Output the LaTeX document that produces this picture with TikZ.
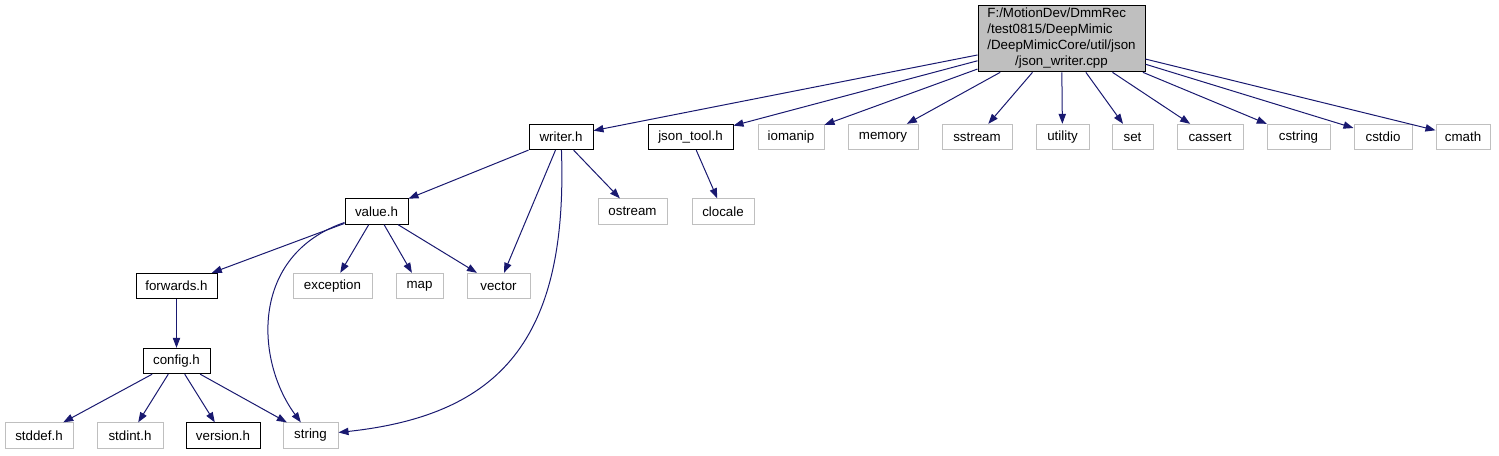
\documentclass[tikz,border=0pt]{standalone}
\usepackage{fontspec}
\setmainfont{Liberation Sans}
\usetikzlibrary{arrows.meta}
\definecolor{edgeblue}{HTML}{191970}
\definecolor{sysgray}{HTML}{BFBFBF}
\tikzset{
  filebox/.style={draw=black, fill=white, line width=0.75pt, inner sep=0pt,
    minimum height=19pt, font=\fontsize{10}{12}\selectfont},
  sysbox/.style={filebox, draw=sysgray},
  rootbox/.style={filebox, fill=sysgray, minimum height=50pt},
  boxw/.style={minimum width=#1*0.75pt},
  dep/.style={draw=edgeblue, line width=0.75pt, -{Triangle[length=7.5pt,width=5.5pt]}}
}
\begin{document}
\begin{tikzpicture}[x=0.75pt, y=-0.75pt]
\useasboundingbox (0,0) rectangle (1499,455);
% top file
\node[rootbox, boxw=167] (root) at (1061.5,38.5)
  {\begin{tabular}{@{}l@{}}F:/MotionDev/DmmRec\\/test0815/DeepMimic\\/DeepMimicCore/util/json\\\multicolumn{1}{@{}c@{}}{/json\_writer.cpp}\end{tabular}};
% direct includes
\node[filebox, boxw=64] (writer) at (561,137) {writer.h};
\node[filebox, boxw=85] (jsontool) at (690.5,137) {json\_tool.h};
\node[sysbox, boxw=66] (iomanip) at (791,137) {iomanip};
\node[sysbox, boxw=70] (memory) at (883,137) {memory};
\node[sysbox, boxw=70] (sstream) at (977,137) {sstream};
\node[sysbox, boxw=53] (utility) at (1062.5,137) {utility};
\node[sysbox, boxw=41] (set) at (1132.5,137) {set};
\node[sysbox, boxw=66] (cassert) at (1210,137) {cassert};
\node[sysbox, boxw=63] (cstring) at (1298.5,137) {cstring};
\node[sysbox, boxw=58] (cstdio) at (1383,137) {cstdio};
\node[sysbox, boxw=54] (cmath) at (1463,137) {cmath};
% second level
\node[filebox, boxw=63] (value) at (376.5,211.5) {value.h};
\node[sysbox, boxw=69] (ostream) at (632.5,211.5) {ostream};
\node[sysbox, boxw=62] (clocale) at (723,211.5) {clocale};
\node[filebox, boxw=81] (forwards) at (176.5,286) {forwards.h};
\node[sysbox, boxw=79] (exception) at (332.5,286) {exception};
\node[sysbox, boxw=47] (map) at (419.5,286) {map};
\node[sysbox, boxw=63] (vector) at (498.5,286) {vector};
\node[filebox, boxw=67] (config) at (176.5,361) {config.h};
\node[sysbox, boxw=68] (stddef) at (39,435.5) {stddef.h};
\node[sysbox, boxw=66] (stdint) at (130,435.5) {stdint.h};
\node[filebox, boxw=74] (version) at (223,435.5) {version.h};
\node[sysbox, boxw=55] (string) at (310.5,435.5) {string};
% edges
\foreach \t in {writer,jsontool,iomanip,memory,sstream,utility,set,cassert,cstring,cstdio,cmath}
  \draw[dep] (root) -- (\t);
\foreach \t in {value,ostream,vector}
  \draw[dep] (writer) -- (\t);
\draw[dep] (writer) .. controls (568,340) and (500,415) .. (string);
\draw[dep] (jsontool) -- (clocale);
\foreach \t in {forwards,exception,map,vector}
  \draw[dep] (value) -- (\t);
\draw[dep] (value) .. controls (250,255) and (255,360) .. (string);
\draw[dep] (forwards) -- (config);
\foreach \t in {stddef,stdint,version,string}
  \draw[dep] (config) -- (\t);
\end{tikzpicture}
\end{document}
